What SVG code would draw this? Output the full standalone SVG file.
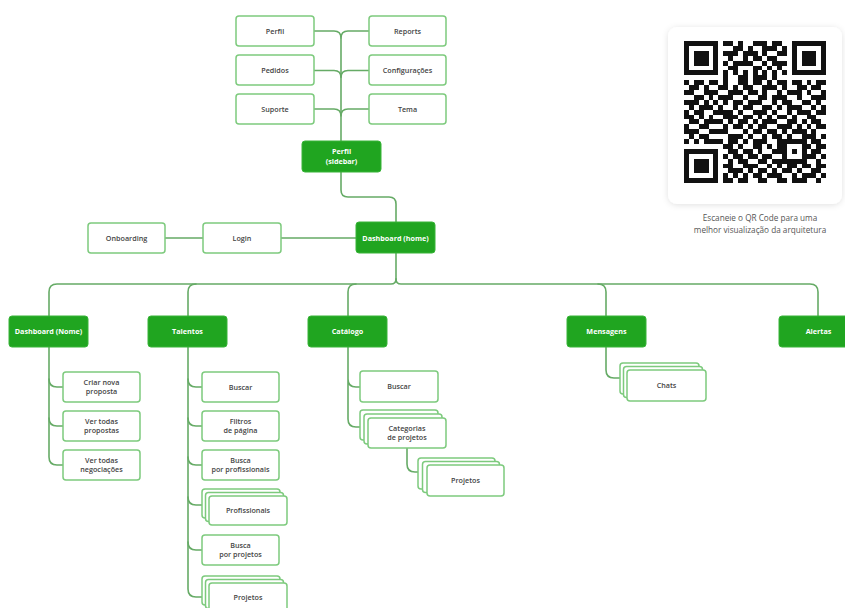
<svg xmlns="http://www.w3.org/2000/svg" width="845" height="608" viewBox="0 0 845 608">
<style>
.wire{fill:none;stroke:#66ab66;stroke-width:1.6;stroke-linecap:round;stroke-linejoin:round}
.box{fill:#fff;stroke:#7dca7d;stroke-width:1.5}
.hub{fill:#20a520;stroke:#38b438;stroke-width:1}
.t{font-family:"Open Sans","Liberation Sans",sans-serif;font-size:7.2px;font-weight:600;fill:#444;text-anchor:middle}
.th{font-family:"Open Sans","Liberation Sans",sans-serif;font-size:7.2px;font-weight:700;fill:#fff;text-anchor:middle}
.cap{font-family:"Open Sans","Liberation Sans",sans-serif;font-size:8.2px;font-weight:400;fill:#555;text-anchor:middle}
</style>
<defs>
<filter id="soft" x="-10%" y="-10%" width="120%" height="120%">
<feDropShadow dx="0" dy="1" stdDeviation="3" flood-color="#000" flood-opacity="0.12"/>
</filter>
</defs>
<rect width="845" height="608" fill="#fff"/>

<!-- connectors -->
<g id="connectors" class="wire">
<path d="M314 31H334Q341 31 341 38M369 31H348Q341 31 341 38"/>
<path d="M314 70.5H334Q341 70.5 341 77.5M369 70.5H348Q341 70.5 341 77.5"/>
<path d="M314 109H334Q341 109 341 116M369 109H348Q341 109 341 116"/>
<path d="M341 38V141"/>
<path d="M341 172V190Q341 197 348 197H389Q396 197 396 204V222"/>
<path d="M165 238H203M281 238H356"/>
<path d="M396 253V279"/>
<path d="M396 279Q396 284 391 284H57Q49 284 49 292V457Q49 465 57 465H63"/>
<path d="M396 279Q396 284 401 284H810Q818 284 818 292V317"/>
<path d="M49 379Q49 387 57 387H63M49 418Q49 426 57 426H63"/>
<path d="M196 284Q188 284 188 292V589Q188 597 196 597H202"/>
<path d="M188 379Q188 387 196 387H202M188 418Q188 426 196 426H202M188 457Q188 465 196 465H202M188 497Q188 505 196 505H202M188 542Q188 550 196 550H202"/>
<path d="M356 284Q348 284 348 292V419Q348 427 356 427H360M348 379Q348 387 356 387H360"/>
<path d="M407 448V464Q407 472 415 472H418"/>
<path d="M598 284Q606 284 606 292V370Q606 378 614 378H620"/>
</g>

<!-- sidebar items -->
<g id="perfil"><rect class="box" x="236" y="16" width="78" height="30" rx="3"/><text class="t" x="275" y="33.5">Perfil</text></g>
<g id="reports"><rect class="box" x="369" y="16" width="77" height="30" rx="3"/><text class="t" x="407.5" y="33.5">Reports</text></g>
<g id="pedidos"><rect class="box" x="236" y="55" width="78" height="30" rx="3"/><text class="t" x="275" y="72.5">Pedidos</text></g>
<g id="configuracoes"><rect class="box" x="369" y="55" width="77" height="30" rx="3"/><text class="t" x="407.5" y="72.5">Configurações</text></g>
<g id="suporte"><rect class="box" x="236" y="94" width="78" height="30" rx="3"/><text class="t" x="275" y="111.5">Suporte</text></g>
<g id="tema"><rect class="box" x="369" y="94" width="77" height="30" rx="3"/><text class="t" x="407.5" y="111.5">Tema</text></g>

<g id="perfil-sidebar"><rect class="hub" x="302" y="141" width="79" height="31" rx="3"/><text class="th" x="341.5" y="154">Perfil</text><text class="th" x="341.5" y="163.5">(sidebar)</text></g>

<!-- entry row -->
<g id="onboarding"><rect class="box" x="88" y="223" width="77" height="30" rx="3"/><text class="t" x="126.5" y="240.5">Onboarding</text></g>
<g id="login"><rect class="box" x="203" y="223" width="78" height="30" rx="3"/><text class="t" x="242" y="240.5">Login</text></g>
<g id="dashboard-home"><rect class="hub" x="356" y="222" width="79" height="31" rx="3"/><text class="th" x="395.5" y="240.5">Dashboard (home)</text></g>

<!-- main sections -->
<g id="dashboard-nome"><rect class="hub" x="9" y="316" width="79" height="31" rx="3"/><text class="th" x="48.5" y="334">Dashboard (Nome)</text></g>
<g id="talentos"><rect class="hub" x="148" y="316" width="79" height="31" rx="3"/><text class="th" x="187.5" y="334">Talentos</text></g>
<g id="catalogo"><rect class="hub" x="308" y="316" width="79" height="31" rx="3"/><text class="th" x="347.5" y="334">Catálogo</text></g>
<g id="mensagens"><rect class="hub" x="567" y="316" width="79" height="31" rx="3"/><text class="th" x="606.5" y="334">Mensagens</text></g>
<g id="alertas"><rect class="hub" x="779" y="316" width="79" height="31" rx="3"/><text class="th" x="818.5" y="334">Alertas</text></g>

<!-- dashboard (nome) children -->
<g id="criar-proposta"><rect class="box" x="63" y="372" width="77" height="30" rx="3"/><text class="t" x="101.5" y="385">Criar nova</text><text class="t" x="101.5" y="394">proposta</text></g>
<g id="ver-propostas"><rect class="box" x="63" y="411" width="77" height="30" rx="3"/><text class="t" x="101.5" y="424">Ver todas</text><text class="t" x="101.5" y="433">propostas</text></g>
<g id="ver-negociacoes"><rect class="box" x="63" y="450" width="77" height="30" rx="3"/><text class="t" x="101.5" y="463">Ver todas</text><text class="t" x="101.5" y="472">negociações</text></g>

<!-- talentos children -->
<g id="talentos-buscar"><rect class="box" x="202" y="372" width="77" height="30" rx="3"/><text class="t" x="240.5" y="389.5">Buscar</text></g>
<g id="filtros"><rect class="box" x="202" y="411" width="77" height="30" rx="3"/><text class="t" x="240.5" y="424">Filtros</text><text class="t" x="240.5" y="433">de página</text></g>
<g id="busca-profissionais"><rect class="box" x="202" y="450" width="77" height="30" rx="3"/><text class="t" x="240.5" y="463">Busca</text><text class="t" x="240.5" y="472">por profissionais</text></g>
<g id="profissionais"><rect class="box" x="202" y="489" width="78" height="29" rx="3"/><rect class="box" x="205.5" y="492.5" width="78" height="29" rx="3"/><rect class="box" x="209" y="496" width="78" height="29" rx="3"/><text class="t" x="248" y="513">Profissionais</text></g>
<g id="busca-projetos"><rect class="box" x="202" y="535" width="77" height="30" rx="3"/><text class="t" x="240.5" y="548">Busca</text><text class="t" x="240.5" y="557">por projetos</text></g>
<g id="talentos-projetos"><rect class="box" x="202" y="576" width="78" height="29" rx="3"/><rect class="box" x="205.5" y="579.5" width="78" height="29" rx="3"/><rect class="box" x="209" y="583" width="78" height="29" rx="3"/><text class="t" x="248" y="600">Projetos</text></g>

<!-- catalogo children -->
<g id="catalogo-buscar"><rect class="box" x="360" y="371" width="78" height="31" rx="3"/><text class="t" x="399" y="389">Buscar</text></g>
<g id="categorias"><rect class="box" x="360" y="410" width="78" height="30" rx="3"/><rect class="box" x="364" y="414" width="78" height="30" rx="3"/><rect class="box" x="368" y="418" width="78" height="30" rx="3"/><text class="t" x="407" y="431">Categorias</text><text class="t" x="407" y="440">de projetos</text></g>
<g id="catalogo-projetos"><rect class="box" x="418" y="458" width="77" height="31" rx="3"/><rect class="box" x="422.5" y="461.5" width="77" height="31" rx="3"/><rect class="box" x="427" y="465" width="77" height="31" rx="3"/><text class="t" x="465.5" y="483">Projetos</text></g>

<!-- mensagens children -->
<g id="chats"><rect class="box" x="620" y="363" width="79" height="31" rx="3"/><rect class="box" x="623.5" y="366.5" width="79" height="31" rx="3"/><rect class="box" x="627" y="370" width="79" height="31" rx="3"/><text class="t" x="666.5" y="388">Chats</text></g>

<!-- QR code card -->
<g id="qr-card">
<rect x="668" y="27" width="174" height="177" rx="9" fill="#fff" filter="url(#soft)"/>
<path transform="translate(684 41) scale(4.9)" fill="#111" shape-rendering="crispEdges" d="
M0 0h7v1H0zM8 0h2v1H8zM11 0h1v1H11zM14 0h3v1H14zM18 0h2v1H18zM22 0h7v1H22z
M0 1h1v1H0zM6 1h1v1H6zM10 1h2v1H10zM13 1h1v1H13zM16 1h3v1H16zM20 1h1v1H20zM22 1h1v1H22zM28 1h1v1H28z
M0 2h1v1H0zM2 2h3v1H2zM6 2h1v1H6zM8 2h3v1H8zM12 2h3v1H12zM16 2h1v1H16zM19 2h2v1H19zM22 2h1v1H22zM24 2h3v1H24zM28 2h1v1H28z
M0 3h1v1H0zM2 3h3v1H2zM6 3h1v1H6zM9 3h1v1H9zM12 3h1v1H12zM14 3h2v1H14zM17 3h2v1H17zM22 3h1v1H22zM24 3h3v1H24zM28 3h1v1H28z
M0 4h1v1H0zM2 4h3v1H2zM6 4h1v1H6zM8 4h1v1H8zM10 4h4v1H10zM16 4h1v1H16zM18 4h3v1H18zM22 4h1v1H22zM24 4h3v1H24zM28 4h1v1H28z
M0 5h1v1H0zM6 5h1v1H6zM9 5h2v1H9zM14 5h2v1H14zM17 5h1v1H17zM19 5h1v1H19zM22 5h1v1H22zM28 5h1v1H28z
M0 6h7v1H0zM8 6h1v1H8zM10 6h1v1H10zM12 6h1v1H12zM14 6h1v1H14zM16 6h1v1H16zM18 6h1v1H18zM20 6h1v1H20zM22 6h7v1H22z
M8 7h1v1H8zM11 7h2v1H11zM14 7h3v1H14zM18 7h1v1H18z
M0 8h1v1H0zM2 8h2v1H2zM5 8h2v1H5zM8 8h1v1H8zM11 8h2v1H11zM14 8h2v1H14zM17 8h1v1H17zM19 8h2v1H19zM22 8h2v1H22zM25 8h1v1H25zM27 8h2v1H27z
M1 9h2v1H1zM4 9h1v1H4zM7 9h2v1H7zM10 9h1v1H10zM12 9h2v1H12zM16 9h3v1H16zM20 9h1v1H20zM23 9h2v1H23zM26 9h2v1H26z
M0 10h2v1H0zM4 10h3v1H4zM9 10h3v1H9zM13 10h2v1H13zM16 10h1v1H16zM19 10h1v1H19zM21 10h3v1H21zM25 10h1v1H25zM28 10h1v1H28z
M2 11h2v1H2zM5 11h1v1H5zM7 11h3v1H7zM12 11h1v1H12zM15 11h2v1H15zM18 11h3v1H18zM23 11h1v1H23zM26 11h3v1H26z
M0 12h3v1H0zM4 12h1v1H4zM6 12h1v1H6zM8 12h1v1H8zM10 12h2v1H10zM13 12h3v1H13zM18 12h1v1H18zM20 12h2v1H20zM24 12h2v1H24zM27 12h1v1H27z
M1 13h1v1H1zM3 13h3v1H3zM7 13h1v1H7zM10 13h1v1H10zM12 13h2v1H12zM16 13h2v1H16zM19 13h1v1H19zM21 13h3v1H21zM26 13h1v1H26zM28 13h1v1H28z
M0 14h1v1H0zM2 14h2v1H2zM6 14h4v1H6zM11 14h1v1H11zM14 14h3v1H14zM18 14h1v1H18zM21 14h1v1H21zM23 14h3v1H23zM27 14h2v1H27z
M0 15h2v1H0zM3 15h1v1H3zM5 15h1v1H5zM8 15h3v1H8zM12 15h2v1H12zM15 15h1v1H15zM17 15h1v1H17zM19 15h2v1H19zM22 15h1v1H22zM25 15h2v1H25z
M1 16h2v1H1zM4 16h4v1H4zM9 16h1v1H9zM11 16h2v1H11zM14 16h1v1H14zM16 16h3v1H16zM21 16h2v1H21zM24 16h1v1H24zM26 16h2v1H26z
M0 17h1v1H0zM3 17h2v1H3zM8 17h1v1H8zM10 17h2v1H10zM13 17h1v1H13zM15 17h2v1H15zM19 17h3v1H19zM23 17h1v1H23zM25 17h1v1H25zM27 17h2v1H27z
M0 18h3v1H0zM5 18h4v1H5zM12 18h1v1H12zM14 18h2v1H14zM17 18h2v1H17zM20 18h1v1H20zM22 18h3v1H22zM26 18h1v1H26z
M1 19h1v1H1zM3 19h2v1H3zM9 19h3v1H9zM13 19h1v1H13zM16 19h1v1H16zM18 19h2v1H18zM21 19h1v1H21zM24 19h3v1H24zM28 19h1v1H28z
M0 20h1v1H0zM2 20h1v1H2zM4 20h4v1H4zM9 20h2v1H9zM12 20h1v1H12zM14 20h3v1H14zM19 20h6v1H19zM26 20h2v1H26z
M8 21h2v1H8zM11 21h1v1H11zM14 21h2v1H14zM17 21h1v1H17zM19 21h2v1H19zM24 21h2v1H24zM27 21h2v1H27z
M0 22h7v1H0zM9 22h2v1H9zM12 22h2v1H12zM15 22h1v1H15zM18 22h3v1H18zM22 22h1v1H22zM24 22h1v1H24zM26 22h2v1H26z
M0 23h1v1H0zM6 23h1v1H6zM8 23h1v1H8zM10 23h2v1H10zM13 23h2v1H13zM16 23h2v1H16zM20 23h1v1H20zM24 23h3v1H24zM28 23h1v1H28z
M0 24h1v1H0zM2 24h3v1H2zM6 24h1v1H6zM9 24h1v1H9zM11 24h2v1H11zM15 24h2v1H15zM18 24h7v1H18zM27 24h1v1H27z
M0 25h1v1H0zM2 25h3v1H2zM6 25h1v1H6zM8 25h2v1H8zM12 25h3v1H12zM17 25h1v1H17zM19 25h1v1H19zM21 25h2v1H21zM24 25h2v1H24zM27 25h2v1H27z
M0 26h1v1H0zM2 26h3v1H2zM6 26h1v1H6zM9 26h3v1H9zM13 26h1v1H13zM15 26h2v1H15zM18 26h1v1H18zM20 26h2v1H20zM23 26h1v1H23zM26 26h2v1H26z
M0 27h1v1H0zM6 27h1v1H6zM8 27h1v1H8zM10 27h1v1H10zM12 27h1v1H12zM14 27h2v1H14zM17 27h3v1H17zM22 27h1v1H22zM24 27h3v1H24zM28 27h1v1H28z
M0 28h7v1H0zM8 28h2v1H8zM11 28h2v1H11zM15 28h2v1H15zM19 28h2v1H19zM22 28h3v1H22zM27 28h1v1H27z"/>
<text class="cap" x="760" y="221">Escaneie o QR Code para uma</text>
<text class="cap" x="760" y="233">melhor visualização da arquitetura</text>
</g>
</svg>
